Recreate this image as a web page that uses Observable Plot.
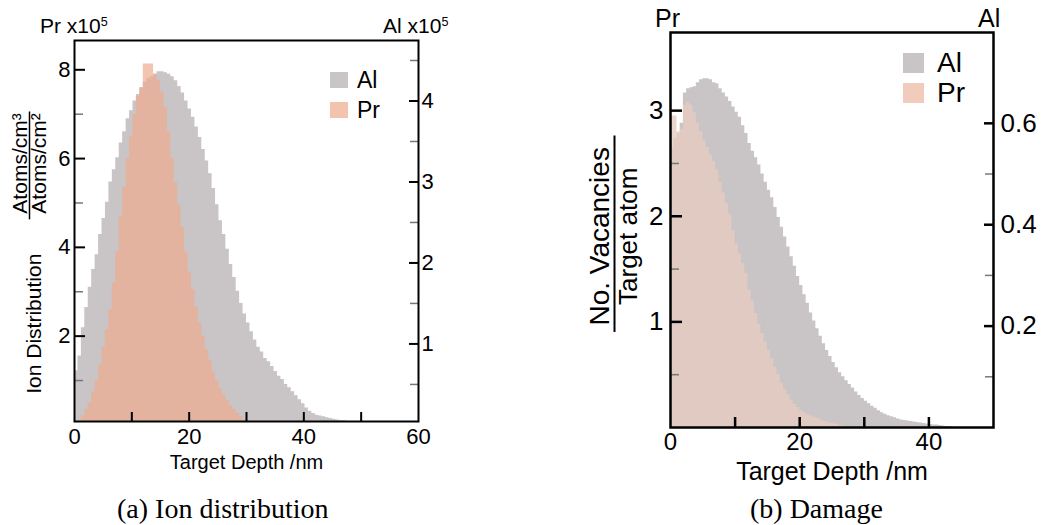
<!DOCTYPE html>
<html><head><meta charset="utf-8">
<script src="https://cdn.jsdelivr.net/npm/d3@7"></script>
<script src="https://cdn.jsdelivr.net/npm/@observablehq/plot@0.6"></script>
<style>
body{margin:0;background:#fff;}
#wrap{position:relative;width:1045px;height:525px;overflow:hidden;font-family:"Liberation Sans",Arial,sans-serif;color:#000;}
#wrap svg{position:absolute;top:0;}
.abs{position:absolute;white-space:nowrap;}
.sw{position:absolute;}
.cap{position:absolute;font-family:"Liberation Serif","Times New Roman",serif;font-size:28px;line-height:28px;white-space:nowrap;}
sup{font-size:0.6em;vertical-align:0.55em;line-height:0;}
</style></head><body><div id="wrap"></div>
<script>
// ---------- (a) Ion distribution: 0.6 nm depth bins ----------
const ionBinWidth = 0.6; // nm
const prIon = [0.02,0.08,0.2,0.35,0.5,0.75,1.0,1.35,1.75,2.15,2.6,3.2,3.9,4.7,5.35,6.0,6.5,7.0,7.4,7.6,
  8.13,8.13,8.13,7.9,7.75,7.5,7.15,6.6,6.0,5.45,4.95,4.45,3.9,3.45,3.05,2.65,2.3,2.0,1.7,1.45,
  1.2,1.0,0.82,0.67,0.55,0.44,0.35,0.27,0.18,0.1,0.05,0.02,0.01];
const alIon = [0.67,0.85,1.2,1.45,1.7,1.92,2.1,2.35,2.55,2.75,3.0,3.15,3.3,3.48,3.62,3.78,3.88,4.0,4.08,4.16,
  4.23,4.28,4.3,4.33,4.36,4.36,4.35,4.33,4.3,4.25,4.18,4.1,4.0,3.9,3.8,3.68,3.55,3.4,3.26,3.1,
  2.92,2.72,2.52,2.35,2.17,1.98,1.82,1.65,1.5,1.37,1.26,1.15,1.05,0.96,0.9,0.82,0.78,0.72,0.66,0.6,
  0.56,0.5,0.46,0.41,0.36,0.31,0.26,0.21,0.17,0.14,0.12,0.11,0.1,0.09,0.08,0.07,0.06,0.05,0.05,0.04,
  0.04,0.03,0.03,0.02,0.02,0.02,0.01,0.01];
const ionXLabels = [0, 20, 40, 60];
const ionXTicks = [10, 20, 30, 40, 50];
const ionPrMajor = [2, 4, 6, 8];
const ionPrMinor = [1, 3, 5, 7];
const ionAlMajor = [1, 2, 3, 4];
const ionAlMinor = [0.5, 1.5, 2.5, 3.5, 4.5];

// ---------- (b) Damage: 0.5 nm depth bins ----------
const dmgBinWidth = 0.5; // nm
const prDamage = [2.95,2.95,2.8,2.82,3.05,3.08,3.05,2.98,2.88,2.8,2.72,2.65,2.58,2.52,2.44,2.32,2.22,2.12,2.02,1.86,
  1.74,1.64,1.55,1.46,1.3,1.2,1.08,0.98,0.89,0.81,0.73,0.65,0.57,0.5,0.42,0.36,0.31,0.26,0.22,0.19,
  0.16,0.14,0.12,0.11,0.1,0.085,0.07,0.06,0.05,0.04,0.035,0.03,0.02,0.015,0.01,0.01,0.005];
const alDamage = [0.55,0.57,0.58,0.6,0.66,0.668,0.67,0.672,0.68,0.686,0.688,0.688,0.686,0.68,0.678,0.668,0.66,0.652,0.643,0.632,
  0.622,0.612,0.595,0.58,0.56,0.545,0.532,0.518,0.5,0.484,0.468,0.453,0.434,0.414,0.395,0.376,0.356,0.337,0.318,0.298,
  0.28,0.262,0.245,0.226,0.21,0.195,0.18,0.165,0.152,0.14,0.128,0.118,0.108,0.1,0.092,0.085,0.078,0.07,0.063,0.057,
  0.052,0.047,0.042,0.038,0.033,0.029,0.026,0.023,0.021,0.019,0.017,0.015,0.014,0.013,0.012,0.011,0.01,0.009,0.008,0.007,
  0.006,0.005,0.005,0.004,0.003,0.002,0.002,0.001];
const dmgXLabels = [0, 20, 40];
const dmgXTicks = [10, 20, 30, 40];
const dmgPrMajor = [1, 2, 3];
const dmgPrMinor = [0.5, 1.5, 2.5];
const dmgAlMajor = [0.2, 0.4, 0.6];
const dmgAlMinor = [0.1, 0.3, 0.5];

const xTitle = "Target Depth /nm";
const colGray = "#c9c4c5";

const toRows = (vals, w) => [...vals.map((v, i) => ({x: i * w, v})), {x: vals.length * w, v: 0}];
const font = '"Liberation Sans", Arial, sans-serif';
const txt = {text: d => d, textAnchor: "middle", lineAnchor: "middle"};

// ratio between the right (Al) axis and the left (Pr) axis units
const kIon = 81 / 44.4;
const kDmg = 4.8;

const left = Plot.plot({
  width: 480, height: 480,
  marginLeft: 74, marginRight: 62, marginTop: 40, marginBottom: 59,
  x: {domain: [0, 60]},
  y: {domain: [0.077, 8.66]},
  style: {fontFamily: font, fontSize: "20px", background: "transparent", overflow: "visible", color: "black"},
  marks: [
    Plot.areaY(toRows(alIon, ionBinWidth), {x: "x", y: d => d.v * kIon, curve: "step-after", fill: colGray, clip: true}),
    Plot.areaY(toRows(prIon, ionBinWidth), {x: "x", y: "v", curve: "step-after", fill: "#eeac8e", fillOpacity: 0.7, clip: true}),
    Plot.axisY(ionPrMinor, {anchor: "left", tickSize: -9, tickFormat: () => "", stroke: "#777", strokeWidth: 1.5, label: null}),
    Plot.axisY(ionPrMajor, {anchor: "left", tickSize: -11, tickPadding: 15, strokeWidth: 2, label: null, fontSize: 22,
      tickFormat: d => String(d)}),
    Plot.axisY(ionAlMinor.map(t => t * kIon), {anchor: "right", tickSize: -9, tickFormat: () => "", stroke: "#777", strokeWidth: 1.5, label: null}),
    Plot.axisY(ionAlMajor.map(t => t * kIon), {anchor: "right", tickSize: -10, tickPadding: 13, strokeWidth: 2, label: null, fontSize: 22,
      tickFormat: d => String(Math.round(d / kIon))}),
    Plot.axisX(ionXTicks, {tickSize: -9, tickFormat: () => "", strokeWidth: 2, label: null}),
    Plot.axisX(ionXLabels, {tickSize: 0, tickPadding: 7, label: null, fontSize: 22, tickFormat: d => String(d)}),
    Plot.frame({stroke: "black", strokeWidth: 2}),
    Plot.text([xTitle], {...txt, frameAnchor: "bottom", dy: 41, fontSize: 20}),
    Plot.text(["Ion Distribution"], {...txt, y: 2.28, frameAnchor: "left", dx: -40, rotate: -90, fontSize: 21}),
    Plot.text(["Atoms/cm³"], {...txt, y: 5.89, frameAnchor: "left", dx: -54, rotate: -90, fontSize: 21}),
    Plot.text(["Atoms/cm²"], {...txt, y: 5.89, frameAnchor: "left", dx: -35, rotate: -90, fontSize: 21}),
    Plot.ruleX([0], {y1: 4.62, y2: 7.05, dx: -45, stroke: "black", strokeWidth: 1.5})
  ]
});

const right = Plot.plot({
  width: 525, height: 480,
  marginLeft: 150, marginRight: 52, marginTop: 32, marginBottom: 53,
  x: {domain: [0, 50]},
  y: {domain: [0, 3.74]},
  style: {fontFamily: font, fontSize: "26px", background: "transparent", overflow: "visible", color: "black"},
  marks: [
    Plot.areaY(toRows(alDamage, dmgBinWidth), {x: "x", y: d => d.v * kDmg, curve: "step-after", fill: colGray, clip: true}),
    Plot.areaY(toRows(prDamage, dmgBinWidth), {x: "x", y: "v", curve: "step-after", fill: "#e6ccc0", fillOpacity: 0.8, clip: true}),
    Plot.axisY(dmgPrMinor, {anchor: "left", tickSize: -9, tickFormat: () => "", stroke: "#777", strokeWidth: 1.5, label: null}),
    Plot.axisY(dmgPrMajor, {anchor: "left", tickSize: -12, tickPadding: 19, strokeWidth: 2.5, label: null, fontSize: 26,
      tickFormat: d => String(d)}),
    Plot.axisY(dmgAlMinor.map(t => t * kDmg), {anchor: "right", tickSize: -9, tickFormat: () => "", stroke: "#777", strokeWidth: 1.5, label: null}),
    Plot.axisY(dmgAlMajor.map(t => t * kDmg), {anchor: "right", tickSize: -10, tickPadding: 17, strokeWidth: 2.5, label: null, fontSize: 26,
      tickFormat: d => d3.format(".1f")(d / kDmg)}),
    Plot.axisX(dmgXTicks, {tickSize: -10, tickFormat: () => "", strokeWidth: 2.5, label: null}),
    Plot.axisX(dmgXLabels, {tickSize: 0, tickPadding: 5, label: null, fontSize: 24, tickFormat: d => String(d)}),
    Plot.frame({stroke: "black", strokeWidth: 2.5}),
    Plot.text([xTitle], {...txt, frameAnchor: "bottom", dy: 44, fontSize: 25}),
    Plot.text(["No. Vacancies"], {...txt, y: 1.81, frameAnchor: "left", dx: -70, rotate: -90, fontSize: 28}),
    Plot.text(["Target atom"], {...txt, y: 1.81, frameAnchor: "left", dx: -42, rotate: -90, fontSize: 26}),
    Plot.ruleX([0], {y1: 0.9, y2: 2.76, dx: -56, stroke: "black", strokeWidth: 2})
  ]
});

const wrap = document.getElementById("wrap");
left.style.left = "0px";
right.style.left = "520px";
wrap.appendChild(left);
wrap.appendChild(right);

function addText(html, x, y, size, extra) {
  const d = document.createElement("div");
  d.className = "abs";
  d.innerHTML = html;
  d.style.cssText += `left:${x}px;top:${y}px;font-size:${size}px;line-height:${size}px;` + (extra || "");
  wrap.appendChild(d);
}
function addSwatch(x, y, w, h, color) {
  const d = document.createElement("div");
  d.className = "sw";
  d.style.cssText = `left:${x}px;top:${y}px;width:${w}px;height:${h}px;background:${color};`;
  wrap.appendChild(d);
}
// axis headers
addText("Pr x10<sup>5</sup>", 40, 15, 21);
addText("Al x10<sup>5</sup>", 383, 15, 21);
addText("Pr", 655, 6, 25);
addText("Al", 978, 6, 25);
// legends
const legendNames = ["Al", "Pr"];
addSwatch(330, 72, 18, 16, colGray); addText(legendNames[0], 357, 69, 23);
addSwatch(330, 102, 18, 16, "#f2c4af"); addText(legendNames[1], 357, 99, 23);
addSwatch(903, 53, 21, 20, colGray); addText(legendNames[0], 937, 49, 28);
addSwatch(903, 83, 21, 20, "#f1ccbd"); addText(legendNames[1], 937, 79, 28);
// captions
const captions = ["(a) Ion distribution", "(b) Damage"];
[[captions[0], 117], [captions[1], 750]].forEach(([t, x]) => {
  const d = document.createElement("div");
  d.className = "cap";
  d.textContent = t;
  d.style.left = x + "px";
  d.style.top = "495px";
  wrap.appendChild(d);
});
</script></body></html>
